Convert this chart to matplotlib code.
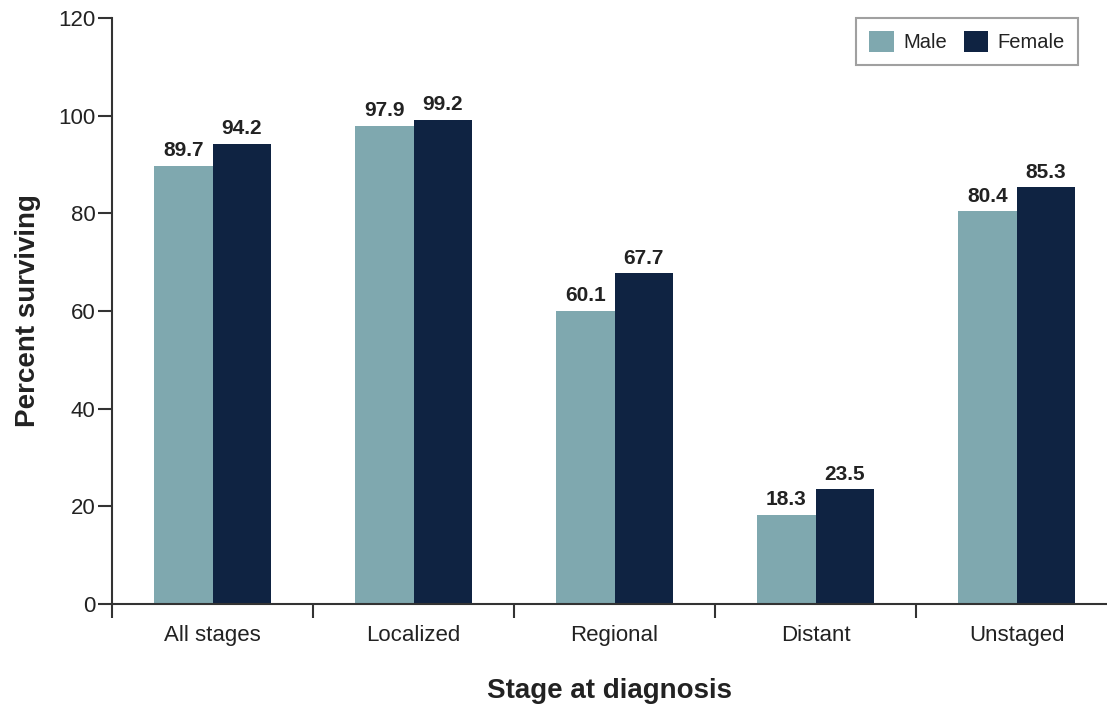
#!/usr/bin/env python3

import numpy as np
import matplotlib
matplotlib.use('Agg')
import matplotlib.pyplot as plt

stages = ['All stages', 'Localized', 'Regional', 'Distant', 'Unstaged']
male = [89.7, 97.9, 60.1, 18.3, 80.4]
female = [94.2, 99.2, 67.7, 23.5, 85.3]

MALE_COL = '#7fa8af'
FEMALE_COL = '#0f2342'
TXT = '#222222'


def main():
    plt.rcParams['font.family'] = ['Liberation Sans', 'DejaVu Sans']

    fig = plt.figure(figsize=(11.07, 7.04), dpi=100)
    ax = fig.add_axes([0.1012, 0.142, 0.8988, 0.8324])

    x = np.arange(len(stages))
    w = 0.29

    b1 = ax.bar(x - w / 2, male, w, color=MALE_COL, label='Male')
    b2 = ax.bar(x + w / 2, female, w, color=FEMALE_COL, label='Female')

    # labels above bars
    for bars, vals in ((b1, male), (b2, female)):
        for b, v in zip(bars, vals):
            ax.annotate(f'{v:.1f}', (b.get_x() + b.get_width() / 2, v),
                        xytext=(0, 4), textcoords='offset points',
                        ha='center', va='bottom', fontsize=15,
                        fontweight='bold', color=TXT)

    ax.set_xlim(-0.5, 4.45)
    ax.set_ylim(0, 120)
    ax.set_yticks(np.arange(0, 121, 20))

    # category separators on the x axis
    ax.set_xticks(np.arange(-0.5, 4.0, 1.0))
    ax.set_xticklabels([])
    ax.set_xticks(x, minor=True)
    ax.set_xticklabels(stages, minor=True, fontsize=16, color=TXT)
    ax.tick_params(axis='x', which='minor', length=0, pad=15)
    ax.tick_params(axis='x', which='major', length=10, width=1.5,
                   color='#333333', direction='out')
    ax.tick_params(axis='y', length=10, width=1.5, color='#333333',
                   labelsize=16, labelcolor=TXT, pad=2)

    for s in ('top', 'right'):
        ax.spines[s].set_visible(False)
    for s in ('left', 'bottom'):
        ax.spines[s].set_linewidth(1.5)
        ax.spines[s].set_color('#333333')

    ax.set_ylabel('Percent surviving', fontsize=20, fontweight='bold',
                  color=TXT, labelpad=12)
    ax.set_xlabel('Stage at diagnosis', fontsize=20, fontweight='bold',
                  color=TXT, labelpad=23)

    leg = ax.legend(loc='upper right', bbox_to_anchor=(0.971, 1.0),
                    borderaxespad=0, ncol=2, fontsize=14.5, frameon=True,
                    fancybox=False, handlelength=1.2, handleheight=1.2,
                    handletextpad=0.5, columnspacing=0.8, borderpad=0.65)
    leg.get_frame().set_edgecolor('#888888')
    leg.get_frame().set_linewidth(1.5)
    for t in leg.get_texts():
        t.set_color(TXT)

    fig.savefig('out.png', dpi=100)


if __name__ == "__main__":
    main()
